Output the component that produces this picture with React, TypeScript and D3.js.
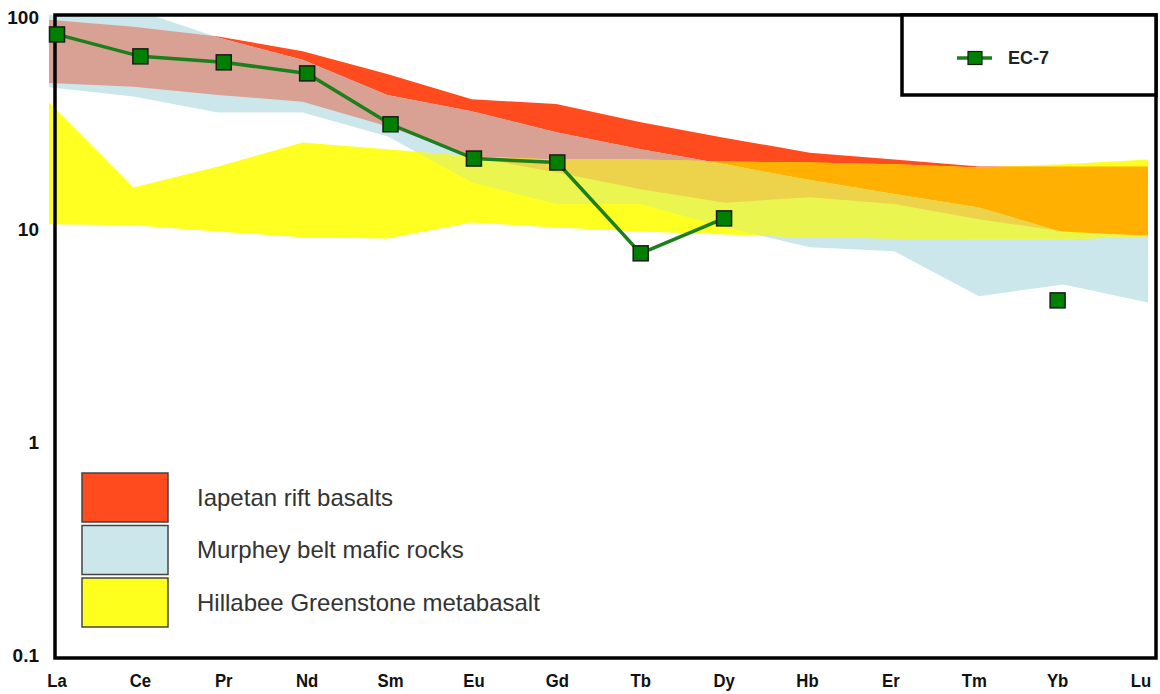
import React from "react";
import * as d3 from "d3";

// REE spider diagram - chondrite normalised
const elements = ["La", "Ce", "Pr", "Nd", "Sm", "Eu", "Gd", "Tb", "Dy", "Hb", "Er", "Tm", "Yb", "Lu"];
const yTicks = [100, 10, 1, 0.1];

// sample EC-7 (null = not analysed)
const ec7: (number | null)[] = [82.8, 65.3, 61.2, 54.3, 31.3, 21.6, 20.7, 7.74, 11.3, null, null, null, 4.65, null];

// reference fields, upper / lower envelope
const iapetanUpper = [97, 90, 81, 69, 54, 41, 39, 32, 27, 23, 21.4, 19.8, 19.8, 19.8];
const iapetanLower = [49, 47, 43, 40, 30.6, 22, 18.6, 15.5, 13.4, 14.2, 13.2, 11.2, 9.8, 9.3];
const murpheyUpper = [115, 109, 80, 63, 43, 36, 28.7, 23.9, 20.3, 17.1, 14.7, 12.7, 9.7, 9.4];
const murpheyLower = [46.7, 42.3, 35.6, 35.6, 27.5, 16.7, 13.2, 13.2, 10.25, 8.26, 7.91, 4.86, 5.53, 4.55];
const hillabeeUpper = [39.7, 15.8, 19.8, 25.7, 23.9, 22.1, 21.4, 21.4, 20.9, 20.7, 20.3, 19.6, 20.3, 21.4];
const hillabeeLower = [10.6, 10.5, 9.8, 9.2, 9.1, 10.8, 10.25, 9.8, 9.5, 9.2, 9.1, 9.0, 9.0, 9.3];

const legendItems = [
  { label: "Iapetan rift basalts", color: "#FF4B1E" },
  { label: "Murphey belt mafic rocks", color: "#CCE7EC" },
  { label: "Hillabee Greenstone metabasalt", color: "#FFFF1E" },
];

const W = 1160;
const H = 694;
const frame = { left: 55, top: 15, right: 1156, bottom: 658 };

export default function App() {
  const x = d3.scalePoint<string>().domain(elements).range([57, 1141]);
  // the fields were pasted in slightly offset from the sample points
  const xBand = d3.scalePoint<string>().domain(elements).range([49, 1148]);
  const y = d3.scaleLog().domain([0.1, 100]).range([655, 17]);

  const field = (upper: number[], lower: number[]) =>
    d3
      .area<number>()
      .x((_, i) => xBand(elements[i]) as number)
      .y0((_, i) => y(lower[i]))
      .y1((d) => y(d))(upper) as string;

  const red = field(iapetanUpper, iapetanLower);
  const blue = field(murpheyUpper, murpheyLower);
  const yellow = field(hillabeeUpper, hillabeeLower);

  const line = d3
    .line<number | null>()
    .defined((d) => d !== null)
    .x((_, i) => x(elements[i]) as number)
    .y((d) => y(d as number));

  const pts = ec7
    .map((v, i) => ({ v, el: elements[i] }))
    .filter((p) => p.v !== null) as { v: number; el: string }[];

  const sx = 0.88; // labels look a bit condensed

  return (
    <svg
      width={W}
      height={H}
      style={{ position: "absolute", left: 0, top: 0, background: "#fff" }}
      fontFamily="'Liberation Sans', Arial, sans-serif"
    >
      <defs>
        <clipPath id="plotArea">
          <rect x={44} y={frame.top} width={frame.right - 44} height={frame.bottom - frame.top} />
        </clipPath>
        <clipPath id="clipRed">
          <path d={red} />
        </clipPath>
        <clipPath id="clipBlue">
          <path d={blue} />
        </clipPath>
      </defs>

      {/* fields and their overlaps */}
      <g clipPath="url(#plotArea)">
        <path d={red} fill="#FF4B1E" />
        <path d={blue} fill="#CCE7EC" />
        <path d={yellow} fill="#FFFF22" />
        <path d={blue} fill="#D9A193" clipPath="url(#clipRed)" />
        <path d={yellow} fill="#FFB000" clipPath="url(#clipRed)" />
        <path d={yellow} fill="#EAF550" clipPath="url(#clipBlue)" />
        <g clipPath="url(#clipRed)">
          <path d={yellow} fill="#EDD24C" clipPath="url(#clipBlue)" />
        </g>
      </g>

      {/* frame */}
      <rect
        x={frame.left}
        y={frame.top}
        width={frame.right - frame.left}
        height={frame.bottom - frame.top}
        fill="none"
        stroke="#000"
        strokeWidth={3.5}
      />

      {/* y labels */}
      {yTicks.map((t) => (
        <text
          key={t}
          x={39}
          y={y(t)}
          dy="0.35em"
          textAnchor="end"
          fontSize={19}
          fontWeight="bold"
          fill="#111"
        >
          {t}
        </text>
      ))}

      {/* x labels */}
      {elements.map((el) => (
        <text
          key={el}
          x={(x(el) as number) / sx}
          y={680}
          dy="0.35em"
          textAnchor="middle"
          fontSize={19}
          fontWeight="bold"
          fill="#111"
          transform={`scale(${sx},1)`}
        >
          {el}
        </text>
      ))}

      {/* EC-7 */}
      <path d={line(ec7) as string} fill="none" stroke="#1B7F1B" strokeWidth={3.5} />
      {pts.map((p) => (
        <rect
          key={p.el}
          x={(x(p.el) as number) - 7.5}
          y={y(p.v) - 7.5}
          width={15}
          height={15}
          fill="#008000"
          stroke="#1a1a1a"
          strokeWidth={1.5}
        />
      ))}

      {/* sample legend */}
      <rect x={902} y={frame.top} width={frame.right - 902} height={95 - frame.top} fill="#fff" stroke="#000" strokeWidth={3.5} />
      <line x1={957} x2={992} y1={58} y2={58} stroke="#1B7F1B" strokeWidth={3.5} />
      <rect x={968} y={51.5} width={14} height={13} fill="#008000" stroke="#1a1a1a" strokeWidth={1.2} />
      <text x={1008} y={58} dy="0.35em" fontSize={18} fontWeight="bold" fill="#222">
        EC-7
      </text>

      {/* field legend */}
      {legendItems.map((d, i) => {
        const top = 473 + i * 52.5;
        return (
          <g key={d.label}>
            <rect x={82} y={top} width={86} height={49} fill={d.color} stroke="#444" strokeWidth={1.5} />
            <text x={197} y={top + 24.5} dy="0.35em" fontSize={24} fill="#333">
              {d.label}
            </text>
          </g>
        );
      })}
    </svg>
  );
}
